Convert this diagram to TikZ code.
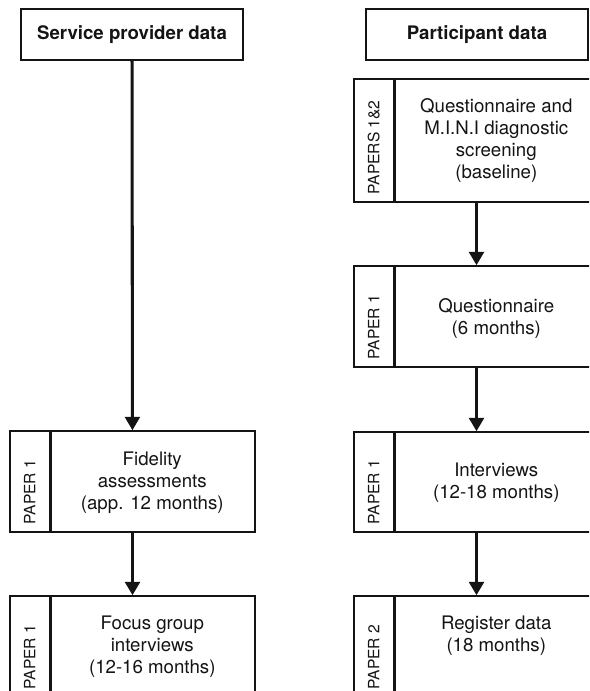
\documentclass[tikz,border=0pt]{standalone}
\usepackage{fontspec}
\setmainfont{TeX Gyre Heros}
\usetikzlibrary{arrows.meta, calc}
\definecolor{inkgrey}{RGB}{20,20,20}
\def\u{0.75pt}
\def\boxStroke{1.1pt}
\def\divStroke{1.9pt}
\def\arrStroke{2.3pt}

\begin{document}
\begin{tikzpicture}[x=\u, y=-\u,
  every node/.style={font=\fontsize{14}{16.5}\selectfont, text=inkgrey},
  headbox/.style={draw=inkgrey, line width=\boxStroke, minimum width=222*\u,
    minimum height=51*\u, inner sep=0pt, font=\fontsize{14}{16.5}\selectfont\bfseries},
  stagebox/.style={draw=inkgrey, line width=\boxStroke, minimum width=245*\u, inner sep=0pt},
  tagtext/.style={rotate=90, anchor=west, inner sep=0pt, font=\fontsize{11.7}{14}\selectfont},
  bodytext/.style={align=center, inner sep=0pt},
  flow/.style={-{Triangle[width=11pt, length=10pt]}, line width=\arrStroke, draw=inkgrey}]

% Page frame (the figure is cut at the right and bottom)
\useasboundingbox (0,0) rectangle (589,691);
\clip (0,0) rectangle (589,691);

% Helper macro: stage frame with rotated paper tag on the left
\newcommand{\stageframe}[5]{%
  \node[stagebox, minimum height=#4*\u] (#1) at (#2,#3) {};
  \draw[inkgrey, line width=\divStroke] ($(#1.north west)+(41,0)$) -- ($(#1.south west)+(41,0)$);
  \node[tagtext] (#1Tag) at ($(#1.south west)+(20.5,-8)$) {#5};
}

% Column headers
\node[headbox] (provHead) at (132,34.5) {Service provider data};
\node[headbox] (partHead) at (477,34.5) {Participant data};

% --- Service provider column ---
\stageframe{fidelity}{132.5}{481.5}{101}{PAPER 1}
\node[bodytext] (fidelityTxt) at ($(fidelity.west)+(143,1.5)$) {Fidelity\\assessments\\(app. 12 months)};

\stageframe{focus}{132.5}{646.5}{101}{PAPER 1}
\node[bodytext] (focusTxt) at ($(focus.west)+(143,0.5)$) {Focus group\\interviews\\(12-16 months)};

% --- Participant column ---
\stageframe{base}{476.5}{140.5}{123}{PAPERS 1\&2}
\node[bodytext] (baseTxt) at ($(base.west)+(143,0)$) {Questionnaire and\\M.I.N.I diagnostic\\screening\\(baseline)};

\stageframe{sixMonth}{476.5}{316.5}{101}{PAPER 1}
\node[bodytext] (sixMonthTxt) at ($(sixMonth.west)+(143,2)$) {Questionnaire\\(6 months)};

\stageframe{interviews}{476.5}{482}{100}{PAPER 1}
\node[bodytext] (interviewsTxt) at ($(interviews.west)+(143,1)$) {Interviews\\(12-18 months)};

\stageframe{register}{476.5}{646.5}{101}{PAPER 2}
\node[bodytext] (registerTxt) at ($(register.west)+(143,-10.5)$) {Register data\\(18 months)};

% Arrows
\draw[flow] (provHead) -- (fidelity);
\draw[flow] (fidelity) -- (focus);
\draw[flow] (base) -- (sixMonth);
\draw[flow] (sixMonth) -- (interviews);
\draw[flow] (interviews) -- (register);

\end{tikzpicture}
\end{document}
